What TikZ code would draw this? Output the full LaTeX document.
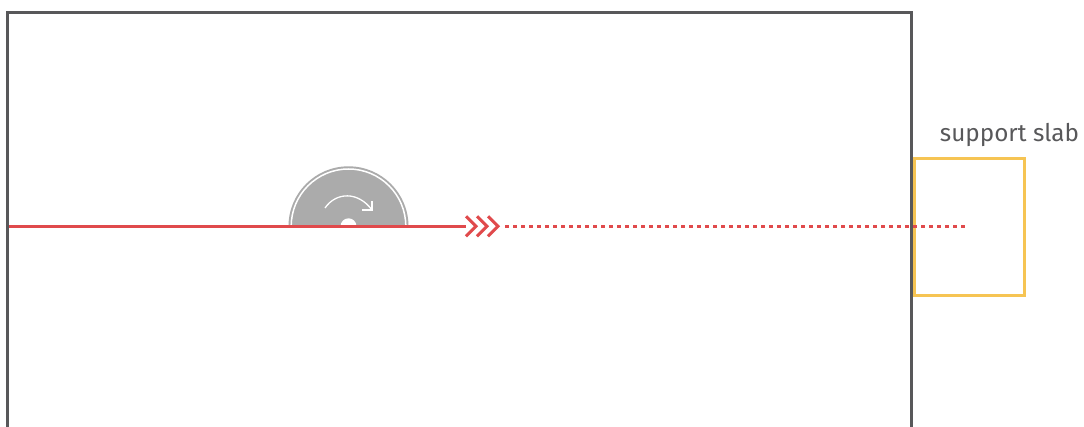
\documentclass[tikz,border=0pt]{standalone}
\usepackage{fontspec}
\setmainfont{Fira Sans}
\usetikzlibrary{positioning,calc}
\definecolor{framegrey}{HTML}{58585A}
\definecolor{discgrey}{HTML}{ABABAB}
\definecolor{slabyellow}{HTML}{F6C453}
\definecolor{cutred}{HTML}{E04A4C}

\begin{document}
\begin{tikzpicture}[
  x=1pt, y=-1pt,
  frameline/.style={draw=framegrey, line width=3pt},
  slabbox/.style={rectangle, draw=slabyellow, line width=3pt, minimum width=110.5pt, minimum height=137pt, inner sep=0pt},
  cutline/.style={draw=cutred, line width=3pt},
  chevron/.style={draw=cutred, line width=3pt}
]
  \useasboundingbox (0,0) rectangle (1084,427);
  % wall
  \coordinate (wallbl) at (7.5,430);
  \coordinate (wallbr) at (911.5,430);
  \draw[frameline] (wallbl) |- (wallbr |- 0,13) -- (wallbr);
  % slab
  \node[slabbox] (slab) at (969.5,227) {};
  \node[above=10pt of slab.north east, anchor=south east, xshift=53pt, font=\fontsize{24.3}{27}\selectfont, text=framegrey, inner sep=0pt] (slablabel) {support slab};
  % disc
  \coordinate (hub) at (348.5,226.3);
  \fill[discgrey] (hub) ++(-60,0) arc[start angle=180, end angle=0, radius=60pt] -- cycle;
  \draw[white, line width=1.5pt] (hub) ++(-57.3,0) arc[start angle=180, end angle=0, radius=57.3pt];
  \fill[white] (hub) circle[radius=8pt];
  \coordinate (spinstart) at (325,208);
  \coordinate (spinend) at (372,210);
  \draw[white, line width=1.3pt] (spinstart) .. controls (336,192) and (358,191) .. (spinend);
  \draw[white, line width=1.3pt] (362,210) -- (spinend) -- (372,201);
  % cut
  \coordinate (cutstart) at (9,226.3);
  \coordinate (cutend) at (466,226.3);
  \coordinate (planstart) at (505,226.3);
  \coordinate (planend) at (966,226.3);
  \draw[cutline] (cutstart) -- (cutend);
  \foreach \cx in {466,477,488}
    \draw[chevron] (\cx,216.3) -- ++(10,10) -- ++(-10,10);
  \draw[cutline, dash pattern=on 4pt off 4pt] (planstart) -- (planend);
\end{tikzpicture}
\end{document}
